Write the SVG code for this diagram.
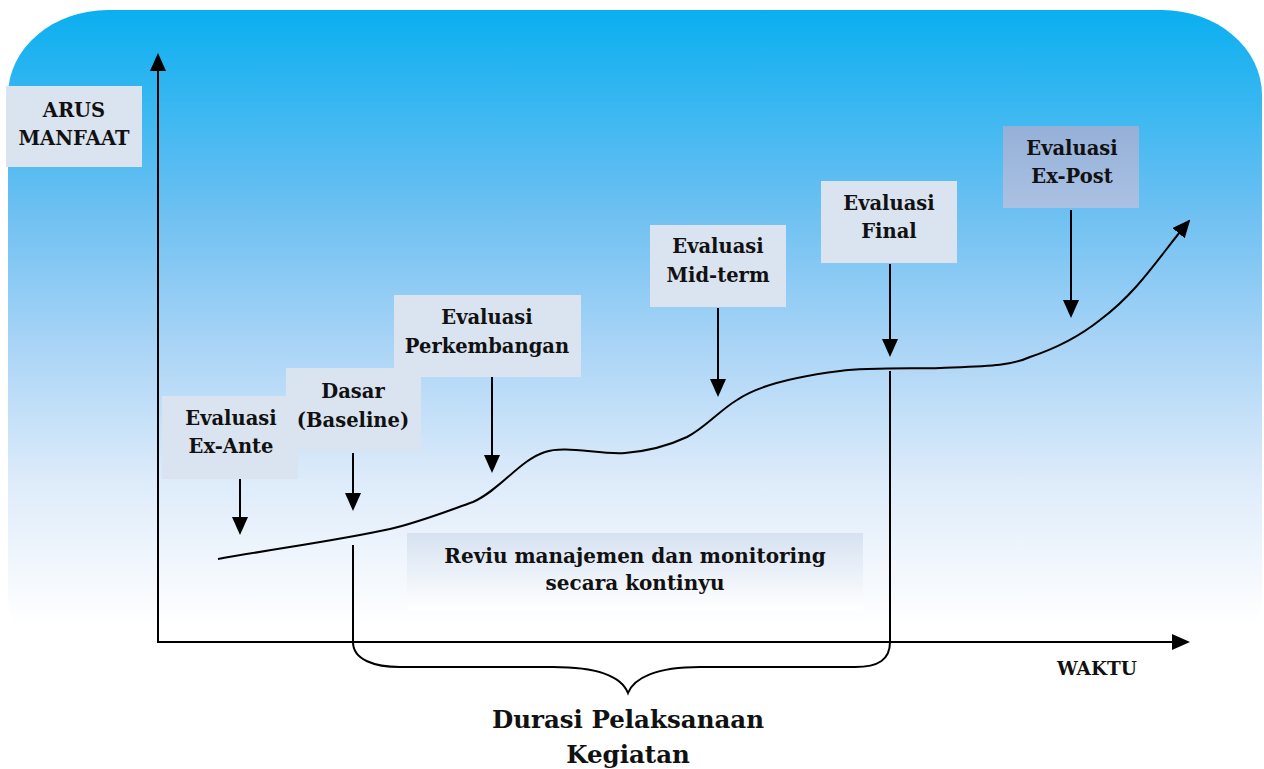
<svg xmlns="http://www.w3.org/2000/svg" width="1264" height="769" viewBox="0 0 1264 769">
<defs>
<linearGradient id="bg" x1="0" y1="0" x2="0" y2="1">
<stop offset="0" stop-color="#0AAFF0"/>
<stop offset="0.3" stop-color="#6DC0F2"/>
<stop offset="0.5" stop-color="#A9D4F6"/>
<stop offset="0.7" stop-color="#DDEBFA"/>
<stop offset="0.92" stop-color="#FFFFFF"/>
</linearGradient>
<linearGradient id="rev" x1="0" y1="0" x2="0" y2="1">
<stop offset="0" stop-color="#D6E2F1"/>
<stop offset="1" stop-color="#FFFFFF"/>
</linearGradient>
<linearGradient id="post" x1="0" y1="0" x2="0" y2="1">
<stop offset="0" stop-color="#95B0D8"/>
<stop offset="1" stop-color="#AAC1E3"/>
</linearGradient>
<marker id="ah" markerUnits="userSpaceOnUse" markerWidth="18" markerHeight="16" refX="16" refY="8" orient="auto" viewBox="0 0 18 16">
<path d="M0,0 L18,8 L0,16 Z" fill="#000"/>
</marker>
</defs>
<style>
.box{fill:#DAE3F0}
.t{font-family:"DejaVu Serif","Liberation Serif",serif;font-weight:bold;font-size:19.5px;fill:#111;text-anchor:middle}
.rv{font-size:20px}
.wk{font-size:18.5px}
.big{font-size:24.5px}
.ln{stroke:#000;stroke-width:2;fill:none}
.arr{stroke:#000;stroke-width:2;fill:none;marker-end:url(#ah)}
</style>
<rect x="8" y="10" width="1254" height="670" rx="100" ry="85" fill="url(#bg)"/>

<g id="connectors">
<line class="arr" x1="158" y1="643" x2="158" y2="55"/>
<line class="arr" x1="157" y1="642" x2="1188" y2="642"/>
<path class="arr" d="M218,559 C280,548 340,540 390,529 C420,522 450,510 473,502 C500,490 520,460 545,452 C565,445 600,455 625,453 C650,451 670,445 687,437 C705,428 720,410 737,400 C760,384 800,376 840,371 C870,367 920,369 940,368 C990,366 1010,366 1030,357 C1060,347 1080,336 1100,320 C1140,290 1160,255 1189,221"/>
<line class="arr" x1="240" y1="479" x2="240" y2="533"/>
<line class="arr" x1="353" y1="453" x2="353" y2="509"/>
<line class="arr" x1="492" y1="377" x2="492" y2="471"/>
<line class="arr" x1="718" y1="308" x2="718" y2="395"/>
<line class="arr" x1="890" y1="264" x2="890" y2="355"/>
<line class="arr" x1="1071" y1="210" x2="1071" y2="316"/>
<line class="ln" x1="890" y1="371" x2="890" y2="642"/>
<line class="ln" x1="353" y1="545" x2="353" y2="642"/>
<path class="ln" d="M353,642 C353,660 375,667 400,667 L553,667 C600,667 622,678 628,693 C634,678 656,667 700,667 L855,667 C878,667 890,660 890,642"/>
</g>

<g id="arus">
<rect class="box" x="6" y="86" width="136" height="81"/>
<text class="t" x="74" y="117">ARUS</text>
<text class="t" x="74" y="145">MANFAAT</text>
</g>
<g id="exante">
<rect class="box" x="162" y="396" width="136" height="83"/>
<text class="t" x="231" y="425">Evaluasi</text>
<text class="t" x="231" y="453">Ex-Ante</text>
</g>
<g id="dasar">
<rect class="box" x="286" y="368" width="135" height="83"/>
<text class="t" x="353" y="398">Dasar</text>
<text class="t" x="353" y="427">(Baseline)</text>
</g>
<g id="perkembangan">
<rect class="box" x="394" y="295" width="187" height="82"/>
<text class="t" x="487" y="324">Evaluasi</text>
<text class="t" x="487" y="353">Perkembangan</text>
</g>
<g id="midterm">
<rect class="box" x="650" y="225" width="136" height="82"/>
<text class="t" x="718" y="253">Evaluasi</text>
<text class="t" x="718" y="282">Mid-term</text>
</g>
<g id="final">
<rect class="box" x="821" y="181" width="136" height="82"/>
<text class="t" x="889" y="210">Evaluasi</text>
<text class="t" x="889" y="238">Final</text>
</g>
<g id="expost">
<rect x="1003" y="126" width="136" height="82" fill="url(#post)"/>
<text class="t" x="1072" y="155">Evaluasi</text>
<text class="t" x="1072" y="183">Ex-Post</text>
</g>
<g id="reviu">
<rect x="407" y="533" width="456" height="78" fill="url(#rev)"/>
<text class="t rv" x="635" y="563">Reviu manajemen dan monitoring</text>
<text class="t rv" x="635" y="590">secara kontinyu</text>
</g>
<g id="waktu">
<text class="t wk" x="1097" y="675">WAKTU</text>
</g>
<g id="durasi">
<text class="t big" x="628" y="728">Durasi Pelaksanaan</text>
<text class="t big" x="628" y="763">Kegiatan</text>
</g>
</svg>
